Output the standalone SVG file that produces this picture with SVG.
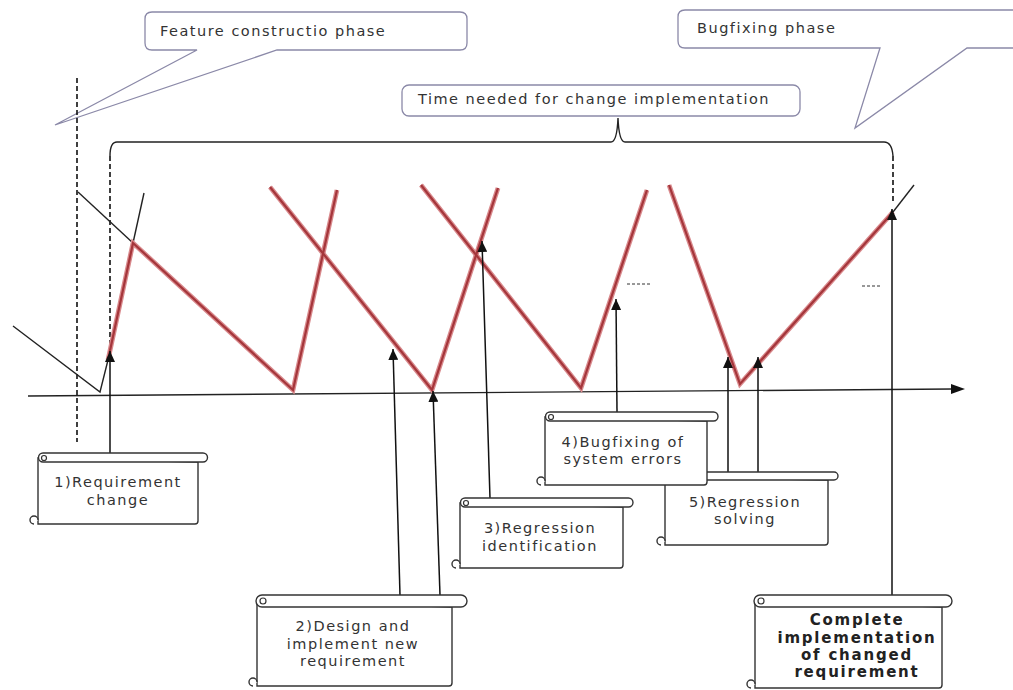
<svg xmlns="http://www.w3.org/2000/svg" width="1013" height="690" viewBox="0 0 1013 690">
  <style>
    .lbl { font-family: "DejaVu Sans", Verdana, sans-serif; font-size: 14.5px; letter-spacing: 1.5px; fill: #333; }
    .mid { text-anchor: middle; }
    .bold { font-weight: bold; font-size: 15px; letter-spacing: 1.8px; fill: #222; }
    .callout { fill: #fff; stroke: #8b89a8; stroke-width: 1.3; }
    .scroll { fill: #fff; stroke: #333; stroke-width: 1.4; }
    .curl { fill: none; stroke: #333; stroke-width: 1.2; }
    .thin { fill: none; stroke: #222; stroke-width: 1.4; }
    .dash { fill: none; stroke: #111; stroke-width: 1.6; stroke-dasharray: 5 3; }
    .tick { fill: none; stroke: #333; stroke-width: 1; stroke-dasharray: 3 2; }
    .redOuter { fill: none; stroke: #d98a8d; stroke-width: 4.8; stroke-linejoin: miter; }
    .redInner { fill: none; stroke: #a5363b; stroke-width: 2.2; }
    .arrow { fill: none; stroke: #111; stroke-width: 1.5; marker-end: url(#head); }
  </style>
  <defs>
    <marker id="head" markerUnits="userSpaceOnUse" markerWidth="12" markerHeight="10" refX="11" refY="5" orient="auto">
      <path d="M0,0 L11,5 L0,10 Z" fill="#111"/>
    </marker>
  </defs>
  <rect width="1013" height="690" fill="#fff"/>

  <!-- phase callouts -->
  <g id="feature-phase">
    <path class="callout" d="M152,12 H460 Q467,12 467,19 V43 Q467,50 460,50 H277 L55,125 L197,50 H152 Q145,50 145,43 V19 Q145,12 152,12 Z"/>
    <text class="lbl" x="160" y="36">Feature constructio phase</text>
  </g>
  <g id="bugfixing-phase">
    <path class="callout" d="M685,10 H1025 V48 H967 L855,128 L880,48 H685 Q678,48 678,41 V17 Q678,10 685,10 Z"/>
    <text class="lbl" x="697" y="33">Bugfixing phase</text>
  </g>
  <g id="time-needed">
    <rect class="callout" x="402" y="85" width="398" height="31" rx="7"/>
    <text class="lbl" x="418" y="104">Time needed for change implementation</text>
  </g>

  <!-- curves, axis, brace and guides -->
  <g id="connectors">
    <!-- time axis -->
    <path class="thin" d="M28,396 L952,389"/>
    <path d="M951,384 L965,389 L951,394 Z" fill="#111"/>

    <!-- brace over the change implementation span -->
    <path class="thin" d="M110,156 Q110,142 117,142 H611 Q617,142 618,118 Q619,142 625,142 H884 Q892,142 893,156"/>
    <path class="dash" d="M110,156 V345"/>
    <path class="dash" d="M893,156 V204"/>
    <path class="dash" d="M77,78 V442"/>

    <!-- black trend segments -->
    <polyline class="thin" points="13,326 100,392 108,360"/>
    <line class="thin" x1="78" y1="192" x2="133" y2="243"/>
    <line class="thin" x1="133" y1="243" x2="144" y2="193"/>
    <line class="thin" x1="893" y1="212" x2="914" y2="185"/>

    <!-- red work curves -->
    <g>
      <polyline class="redOuter" points="108,360 133,243 293,390 337,190"/>
      <polyline class="redOuter" points="270,187 432,390 498,188"/>
      <polyline class="redOuter" points="421,185 581,388 647,190"/>
      <polyline class="redOuter" points="669,185 740,384 893,212"/>
      <polyline class="redInner" points="108,360 133,243 293,390 337,190"/>
      <polyline class="redInner" points="270,187 432,390 498,188"/>
      <polyline class="redInner" points="421,185 581,388 647,190"/>
      <polyline class="redInner" points="669,185 740,384 893,212"/>
    </g>

    <!-- small level ticks -->
    <line class="tick" x1="627" y1="284" x2="650" y2="284"/>
    <line class="tick" x1="862" y1="286" x2="882" y2="286"/>

    <!-- pointers from notes -->
    <line class="arrow" x1="110" y1="453" x2="110" y2="351"/>
    <line class="arrow" x1="400" y1="595" x2="393" y2="349"/>
    <line class="arrow" x1="440" y1="595" x2="433" y2="391"/>
    <line class="arrow" x1="490" y1="498" x2="482" y2="241"/>
    <line class="arrow" x1="617" y1="412" x2="616" y2="299"/>
    <line class="arrow" x1="728" y1="472" x2="728" y2="357"/>
    <line class="arrow" x1="758" y1="472" x2="758" y2="357"/>
    <line class="arrow" x1="892" y1="595" x2="892" y2="209"/>
  </g>

  <!-- scroll notes -->
  <g id="note-1">
    <path class="scroll" d="M38,458 V524 H195 Q198,524 198,521 V462 Z"/>
    <path class="scroll" d="M38,520 a4,4 0 1 0 -4,4"/>
    <path class="scroll" d="M43,453 H203 a4.5,4.5 0 0 1 0,9 H43 a4.5,4.5 0 0 1 0,-9 Z"/>
    <circle class="curl" cx="44" cy="458" r="2.5"/>
    <text class="lbl mid" x="118" y="487">1)Requirement</text>
    <text class="lbl mid" x="118" y="505">change</text>
  </g>

  <g id="note-2">
    <path class="scroll" d="M257,600 V686 H449 Q452,686 452,683 V607 Z"/>
    <path class="scroll" d="M257,682 a4,4 0 1 0 -4,4"/>
    <path class="scroll" d="M262,595 H461 a6,6 0 0 1 0,12 H262 a6,6 0 0 1 0,-12 Z"/>
    <circle class="curl" cx="263" cy="601" r="3"/>
    <text class="lbl mid" x="353" y="631">2)Design and</text>
    <text class="lbl mid" x="353" y="649">implement new</text>
    <text class="lbl mid" x="353" y="666">requirement</text>
  </g>

  <g id="note-3">
    <path class="scroll" d="M460,503 V568 H620 Q623,568 623,565 V507 Z"/>
    <path class="scroll" d="M460,564 a4,4 0 1 0 -4,4"/>
    <path class="scroll" d="M465,498 H628.5 a4.5,4.5 0 0 1 0,9 H465 a4.5,4.5 0 0 1 0,-9 Z"/>
    <circle class="curl" cx="466" cy="503" r="2.5"/>
    <text class="lbl mid" x="540" y="533">3)Regression</text>
    <text class="lbl mid" x="540" y="551">identification</text>
  </g>

  <g id="note-5">
    <path class="scroll" d="M665,477 V545 H825 Q828,545 828,542 V480 Z"/>
    <path class="scroll" d="M665,541 a4,4 0 1 0 -4,4"/>
    <path class="scroll" d="M670,472 H834 a4,4 0 0 1 0,8 H670 a4,4 0 0 1 0,-8 Z"/>
    <circle class="curl" cx="671" cy="476" r="2.5"/>
    <text class="lbl mid" x="745" y="507">5)Regression</text>
    <text class="lbl mid" x="745" y="524">solving</text>
  </g>

  <g id="note-4">
    <path class="scroll" d="M545,417 V485 H704 Q707,485 707,482 V421 Z"/>
    <path class="scroll" d="M545,481 a4,4 0 1 0 -4,4"/>
    <path class="scroll" d="M550,412 H713.5 a4.5,4.5 0 0 1 0,9 H550 a4.5,4.5 0 0 1 0,-9 Z"/>
    <circle class="curl" cx="551" cy="417" r="2.5"/>
    <text class="lbl mid" x="623" y="447">4)Bugfixing of</text>
    <text class="lbl mid" x="623" y="464">system errors</text>
  </g>

  <g id="note-6">
    <path class="scroll" d="M755,600 V688 H939 Q942,688 942,685 V607 Z"/>
    <path class="scroll" d="M755,684 a4,4 0 1 0 -4,4"/>
    <path class="scroll" d="M760,595 H946 a6,6 0 0 1 0,12 H760 a6,6 0 0 1 0,-12 Z"/>
    <circle class="curl" cx="761" cy="601" r="3"/>
    <text class="lbl bold mid" x="857" y="625">Complete</text>
    <text class="lbl bold mid" x="857" y="643">implementation</text>
    <text class="lbl bold mid" x="857" y="660">of changed</text>
    <text class="lbl bold mid" x="857" y="677">requirement</text>
  </g>
</svg>
